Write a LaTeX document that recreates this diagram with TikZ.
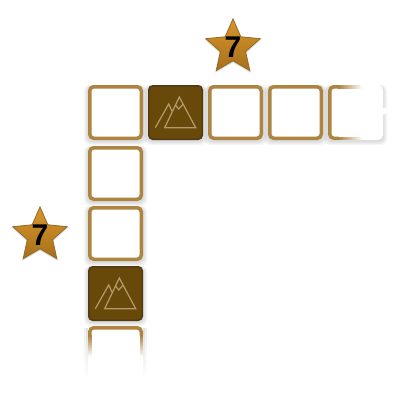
\documentclass[tikz,border=0pt]{standalone}
\usepackage{fontspec}
\setmainfont{Liberation Sans}
\usetikzlibrary{shapes.geometric}
\definecolor{rim}{HTML}{AD8440}
\definecolor{tile}{HTML}{694909}
\definecolor{tileedge}{HTML}{4F3A14}
\definecolor{icon}{HTML}{B39B6C}
\definecolor{startop}{HTML}{D9972A}
\definecolor{starbot}{HTML}{A56F1C}
\definecolor{staredge}{HTML}{96691F}
\newcommand{\softshadow}[2]{%
  \foreach \g in {6,5,4,3,2,1} {
    \fill[black,opacity=0.022,rounded corners=6pt]
      (#1-27.5-\g*0.7,#2-27.5-\g*0.2+1) rectangle (#1+27.5+\g*0.7,#2+27.5+\g*0.7+1);
  }}
\newcommand{\mountain}[2]{%
  \draw[icon,line width=1.2pt,line join=miter,shift={(#1,#2)}]
    (-20.2,15.2) -- (-6.8,-8.5) -- (-3.5,-1.5)
    (-10.8,15.2) -- (3.8,-15.5) -- (20.2,15.2) -- cycle
    (0,-7.5) -- (3.2,-3.5) -- (7.5,-8.2);}
\tikzset{
  cell/.style={draw=rim,fill=white,line width=3.5pt,rounded corners=4pt,minimum size=51.5pt,inner sep=0pt},
  darkcell/.style={draw=tileedge,fill=tile,line width=1.5pt,rounded corners=4pt,minimum size=53.5pt,inner sep=0pt},
  badge/.style={star,star points=5,star point ratio=2.15,minimum size=57pt,inner sep=0pt,draw=staredge,line width=0.8pt,top color=startop,bottom color=starbot},
  halo/.style={star,star points=5,star point ratio=2.15,inner sep=0pt,fill=black,opacity=0.05},
  digit/.style={font=\bfseries\fontsize{30}{30}\selectfont,text=black,inner sep=0pt}
}
\begin{document}
\begin{tikzpicture}[x=1pt,y=-1pt]
\useasboundingbox (0,0) rectangle (400,400);
\fill[white] (0,0) rectangle (400,400);
% shadows
\softshadow{115.5}{112.5}
\softshadow{175.5}{112.5}
\softshadow{235.5}{112.5}
\softshadow{295.5}{112.5}
\softshadow{355.5}{112.5}
\softshadow{115.5}{173.5}
\softshadow{115.5}{233.5}
\softshadow{115.5}{293.5}
% bottom cell shadow, fading downwards
\foreach \i in {0,...,24} {
  \pgfmathsetmacro\m{12-\i*0.48}
  \pgfmathsetmacro\n{6-\i*0.24}
  \fill[black!\n!white] (84,328+\i*2) rectangle (86,330.2+\i*2);
  \fill[black!\m!white] (86,328+\i*2) rectangle (88,330.2+\i*2);
  \fill[black!\m!white] (143,328+\i*2) rectangle (145,330.2+\i*2);
  \fill[black!\n!white] (145,328+\i*2) rectangle (147,330.2+\i*2);
}
% cells
\node[cell] (c1) at (115.5,112.5) {};
\node[darkcell] (c2) at (175.5,112.5) {};
\node[cell] (c3) at (235.5,112.5) {};
\node[cell] (c4) at (295.5,112.5) {};
\node[cell] (r2) at (115.5,173.5) {};
\node[cell] (r3) at (115.5,233.5) {};
\node[darkcell] (r4) at (115.5,293.5) {};
% last cell of the row, fading to the right
\fill[white,rounded corners=5pt] (328,85) rectangle (383,140);
\fill[white] (384,111) circle (3.5);
\foreach \i in {0,...,15} {
  \pgfmathsetmacro\m{100-\i*6.6}
  \fill[rim!\m!white] (338+\i*1.6,85) rectangle (339.8+\i*1.6,88.5);
  \fill[rim!\m!white] (338+\i*1.6,136.5) rectangle (339.8+\i*1.6,140);
}
\draw[rim,line width=3.5pt,rounded corners=4pt] (338.5,86.75) -- (329.75,86.75) -- (329.75,138.25) -- (338.5,138.25);
% last cell of the column, fading downwards
\fill[white] (88,331) rectangle (143,385);
\foreach \i in {0,...,10} {
  \pgfmathsetmacro\m{100-\i*9.5}
  \fill[rim!\m!white] (88,335+\i*2) rectangle (91.5,337.2+\i*2);
  \fill[rim!\m!white] (139.5,335+\i*2) rectangle (143,337.2+\i*2);
}
\draw[rim,line width=3.5pt,rounded corners=4pt] (89.75,335.5) -- (89.75,327.75) -- (141.25,327.75) -- (141.25,335.5);
% mountains
\mountain{175.5}{112.5}
\mountain{115.5}{293.5}
% stars
\foreach \g in {1,2,3} {
  \node[halo,minimum size=57pt+\g*1.6pt] at (233,48.5) {};
  \node[halo,minimum size=57pt+\g*1.6pt] at (40,236.5) {};
}
\node[badge] (s1) at (233,47.5) {};
\node[digit] at (s1.center) {7};
\node[badge] (s2) at (40,235.5) {};
\node[digit] at (s2.center) {7};
\end{tikzpicture}
\end{document}
